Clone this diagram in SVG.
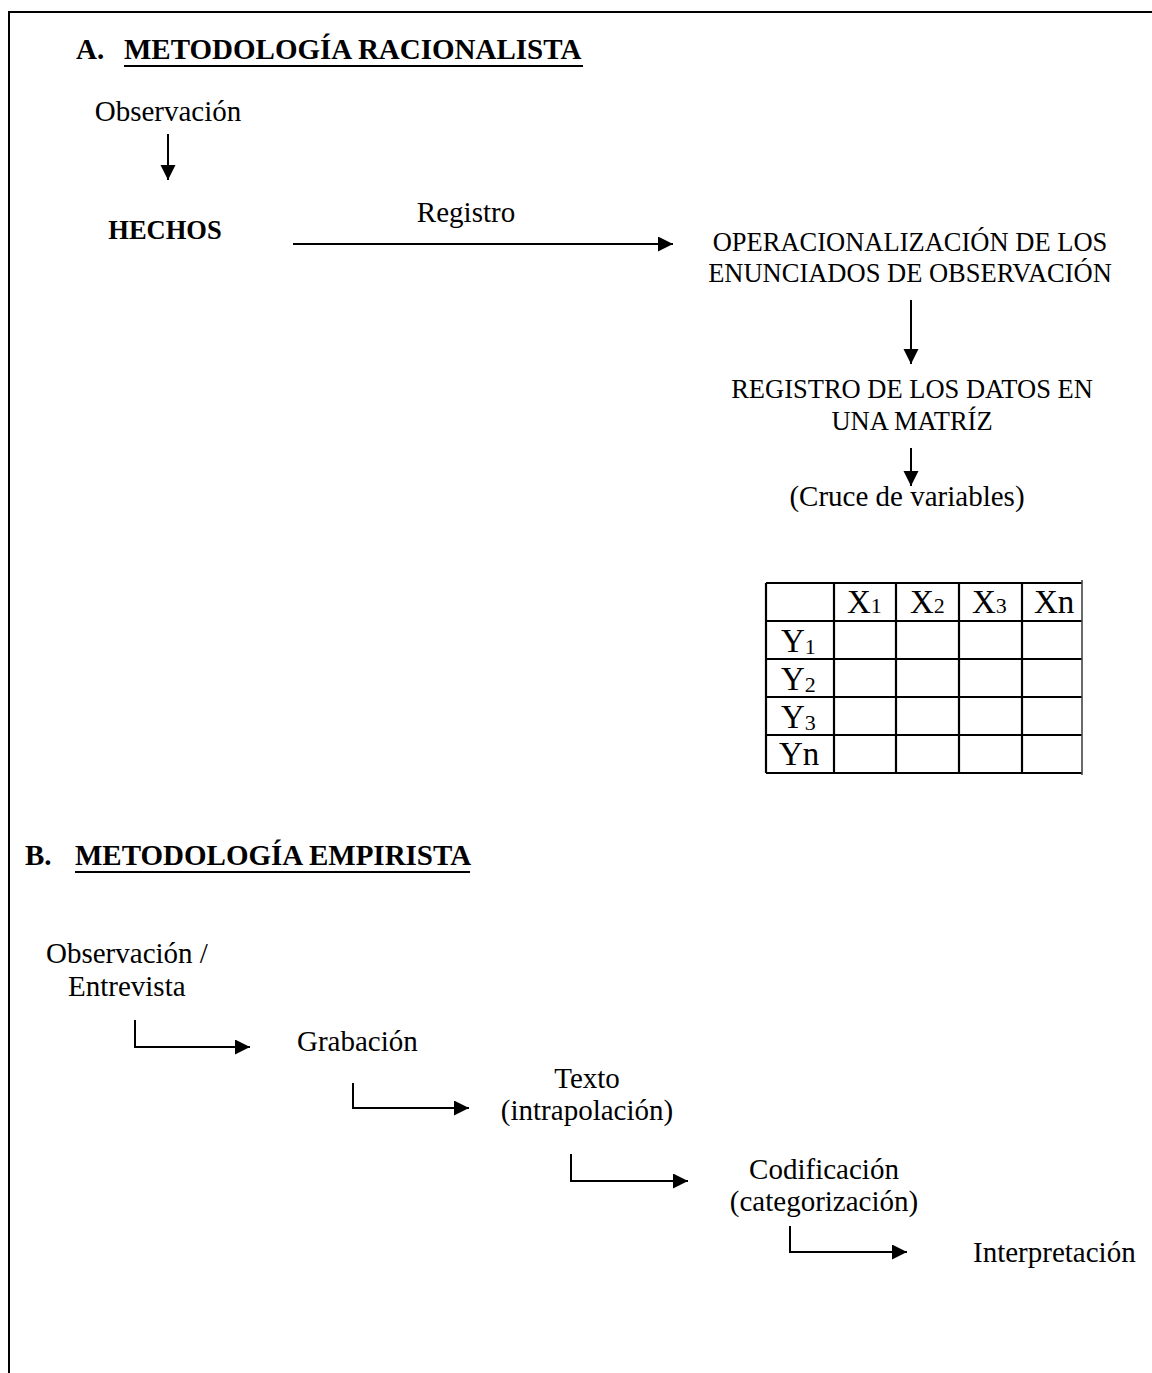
<svg xmlns="http://www.w3.org/2000/svg" width="1152" height="1373" viewBox="0 0 1152 1373">
  <style>
    .t { font-family: "Liberation Serif", "Times New Roman", serif; fill: #000; }
    .title { font-size: 29px; font-weight: bold; }
    .caps { font-size: 26.5px; }
    .body { font-size: 29px; }
    .bold { font-weight: bold; }
    .cell { font-size: 33px; }
    .sub { font-size: 22px; }
    .ln { stroke: #000; stroke-width: 2; fill: none; }
    .grid { stroke: #000; stroke-width: 2.2; fill: none; }
  </style>
  <defs>
    <marker id="arrow" markerWidth="16" markerHeight="16" refX="15" refY="7.5" orient="auto" markerUnits="userSpaceOnUse">
      <path d="M0,0 L15,7.5 L0,15 Z" fill="#000"/>
    </marker>
  </defs>
  <rect width="1152" height="1373" fill="#fff"/>

  <!-- page frame: top and left edges -->
  <path class="ln" d="M9,1373 V12 H1152" stroke-width="2.2"/>

  <!-- section A heading -->
  <g id="title-a">
    <text class="t title" x="76" y="59">A.</text>
    <text class="t title" x="124" y="59">METODOLOGÍA RACIONALISTA</text>
    <line class="ln" x1="124" y1="66" x2="583" y2="66" stroke-width="2"/>
  </g>

  <g id="observacion-a">
    <text class="t body" x="168" y="121" text-anchor="middle">Observación</text>
  </g>
  <g id="hechos">
    <text class="t caps bold" x="165" y="239" text-anchor="middle">HECHOS</text>
  </g>
  <g id="registro-label">
    <text class="t body" x="466" y="222" text-anchor="middle">Registro</text>
  </g>
  <g id="operacionalizacion">
    <text class="t caps" x="910" y="251" text-anchor="middle">OPERACIONALIZACIÓN DE LOS</text>
    <text class="t caps" x="910" y="282" text-anchor="middle">ENUNCIADOS DE OBSERVACIÓN</text>
  </g>
  <g id="registro-datos">
    <text class="t caps" x="912" y="398" text-anchor="middle">REGISTRO DE LOS DATOS EN</text>
    <text class="t caps" x="912" y="430" text-anchor="middle">UNA MATRÍZ</text>
  </g>
  <g id="cruce">
    <text class="t body" x="907" y="506" text-anchor="middle">(Cruce de variables)</text>
  </g>

  <!-- cross-tabulation matrix -->
  <g id="matriz">
    <path class="grid" d="M766,583 H1082 M766,621 H1082 M766,659 H1082 M766,697 H1082 M766,735 H1082 M766,773 H1082"/>
    <path class="grid" d="M766,583 V773 M834,583 V773 M896,583 V773 M959,583 V773 M1022,583 V773"/>
    <line x1="1082" y1="580" x2="1082" y2="775" stroke="#444" stroke-width="1.6"/>
    <text class="t cell" x="847" y="613">X<tspan class="sub">1</tspan></text>
    <text class="t cell" x="910" y="613">X<tspan class="sub">2</tspan></text>
    <text class="t cell" x="972" y="613">X<tspan class="sub">3</tspan></text>
    <text class="t cell" x="1034" y="613">Xn</text>
    <text class="t cell" x="781" y="652">Y<tspan class="sub" dy="2">1</tspan></text>
    <text class="t cell" x="781" y="690">Y<tspan class="sub" dy="2">2</tspan></text>
    <text class="t cell" x="781" y="728">Y<tspan class="sub" dy="2">3</tspan></text>
    <text class="t cell" x="779" y="765">Yn</text>
  </g>

  <!-- section B heading -->
  <g id="title-b">
    <text class="t title" x="25" y="865">B.</text>
    <text class="t title" x="75" y="865">METODOLOGÍA EMPIRISTA</text>
    <line class="ln" x1="75" y1="872" x2="470" y2="872" stroke-width="2"/>
  </g>

  <g id="observacion-b">
    <text class="t body" x="46" y="963">Observación /</text>
    <text class="t body" x="68" y="996">Entrevista</text>
  </g>
  <g id="grabacion">
    <text class="t body" x="297" y="1051">Grabación</text>
  </g>
  <g id="texto">
    <text class="t body" x="587" y="1088" text-anchor="middle">Texto</text>
    <text class="t body" x="587" y="1120" text-anchor="middle">(intrapolación)</text>
  </g>
  <g id="codificacion">
    <text class="t body" x="824" y="1179" text-anchor="middle">Codificación</text>
    <text class="t body" x="824" y="1211" text-anchor="middle">(categorización)</text>
  </g>
  <g id="interpretacion">
    <text class="t body" x="973" y="1262">Interpretación</text>
  </g>

  <!-- connectors -->
  <g id="connectors">
    <line class="ln" x1="168" y1="134" x2="168" y2="180" marker-end="url(#arrow)"/>
    <line class="ln" x1="293" y1="244" x2="673" y2="244" marker-end="url(#arrow)"/>
    <line class="ln" x1="911" y1="300" x2="911" y2="364" marker-end="url(#arrow)"/>
    <line class="ln" x1="911" y1="448" x2="911" y2="486" marker-end="url(#arrow)"/>
    <path class="ln" d="M135,1020 V1047 H250" marker-end="url(#arrow)"/>
    <path class="ln" d="M353,1083 V1108 H469" marker-end="url(#arrow)"/>
    <path class="ln" d="M571,1154 V1181 H688" marker-end="url(#arrow)"/>
    <path class="ln" d="M790,1226 V1252 H907" marker-end="url(#arrow)"/>
  </g>
</svg>
